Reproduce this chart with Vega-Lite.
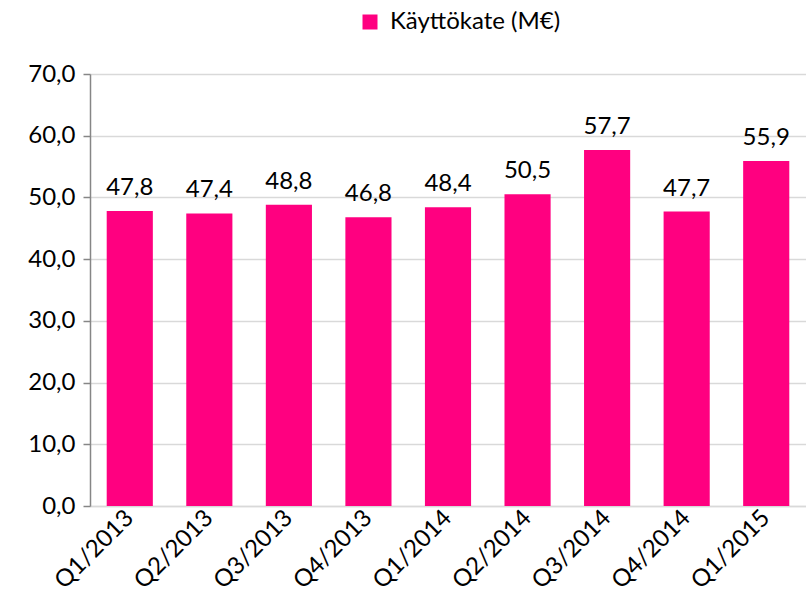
{
  "$schema": "https://vega.github.io/schema/vega-lite/v6.json",
  "width": 716,
  "height": 432,
  "autosize": {"type": "none"},
  "padding": {"left": 90, "top": 74, "right": 0, "bottom": 102},
  "background": "white",
  "config": {
    "font": "Lato",
    "view": {"stroke": null},
    "locale": {"number": {"decimal": ",", "thousands": " ", "grouping": [3], "currency": ["", " €"]}}
  },
  "data": {
    "values": [
      {"q": "Q1/2013", "v": 47.8, "s": "Käyttökate (M€)"},
      {"q": "Q2/2013", "v": 47.4, "s": "Käyttökate (M€)"},
      {"q": "Q3/2013", "v": 48.8, "s": "Käyttökate (M€)"},
      {"q": "Q4/2013", "v": 46.8, "s": "Käyttökate (M€)"},
      {"q": "Q1/2014", "v": 48.4, "s": "Käyttökate (M€)"},
      {"q": "Q2/2014", "v": 50.5, "s": "Käyttökate (M€)"},
      {"q": "Q3/2014", "v": 57.7, "s": "Käyttökate (M€)"},
      {"q": "Q4/2014", "v": 47.7, "s": "Käyttökate (M€)"},
      {"q": "Q1/2015", "v": 55.9, "s": "Käyttökate (M€)"}
    ]
  },
  "encoding": {
    "x": {
      "field": "q", "type": "nominal", "sort": null,
      "scale": {"paddingInner": 0.42, "paddingOuter": 0.21},
      "axis": {
        "title": null, "labelAngle": -45, "labelFontSize": 24, "labelColor": "#000000",
        "labelFont": "Lato", "ticks": false, "domain": true, "domainColor": "#D9D9D9",
        "domainWidth": 1.5, "labelPadding": 8, "labelAlign": "right", "labelBaseline": "middle"
      }
    },
    "y": {
      "field": "v", "type": "quantitative",
      "scale": {"domain": [0, 70]},
      "axis": {
        "title": null, "values": [0, 10, 20, 30, 40, 50, 60, 70], "format": ".1f",
        "labelFontSize": 24, "labelColor": "#000000", "labelPadding": 8,
        "grid": true, "gridColor": "#D9D9D9", "gridWidth": 1.5,
        "domainColor": "#868686", "domainWidth": 1.5,
        "tickColor": "#868686", "tickSize": 7, "tickWidth": 1.5
      }
    }
  },
  "layer": [
    {
      "mark": {"type": "bar", "color": "#FF0080"},
      "encoding": {
        "color": {
          "field": "s", "type": "nominal",
          "scale": {"range": ["#FF0080"]},
          "legend": {
            "title": null, "orient": "none", "legendX": 268, "legendY": -64,
            "symbolType": "square", "symbolSize": 225, "symbolStrokeWidth": 0,
            "labelFontSize": 24, "labelColor": "#000000", "labelOffset": 8,
            "labelFont": "Lato", "labelLimit": 0
          }
        }
      }
    },
    {
      "mark": {"type": "text", "baseline": "alphabetic", "dy": -16, "fontSize": 24, "color": "#000000"},
      "encoding": {
        "text": {"field": "v", "type": "quantitative", "format": ".1f"}
      }
    }
  ]
}
